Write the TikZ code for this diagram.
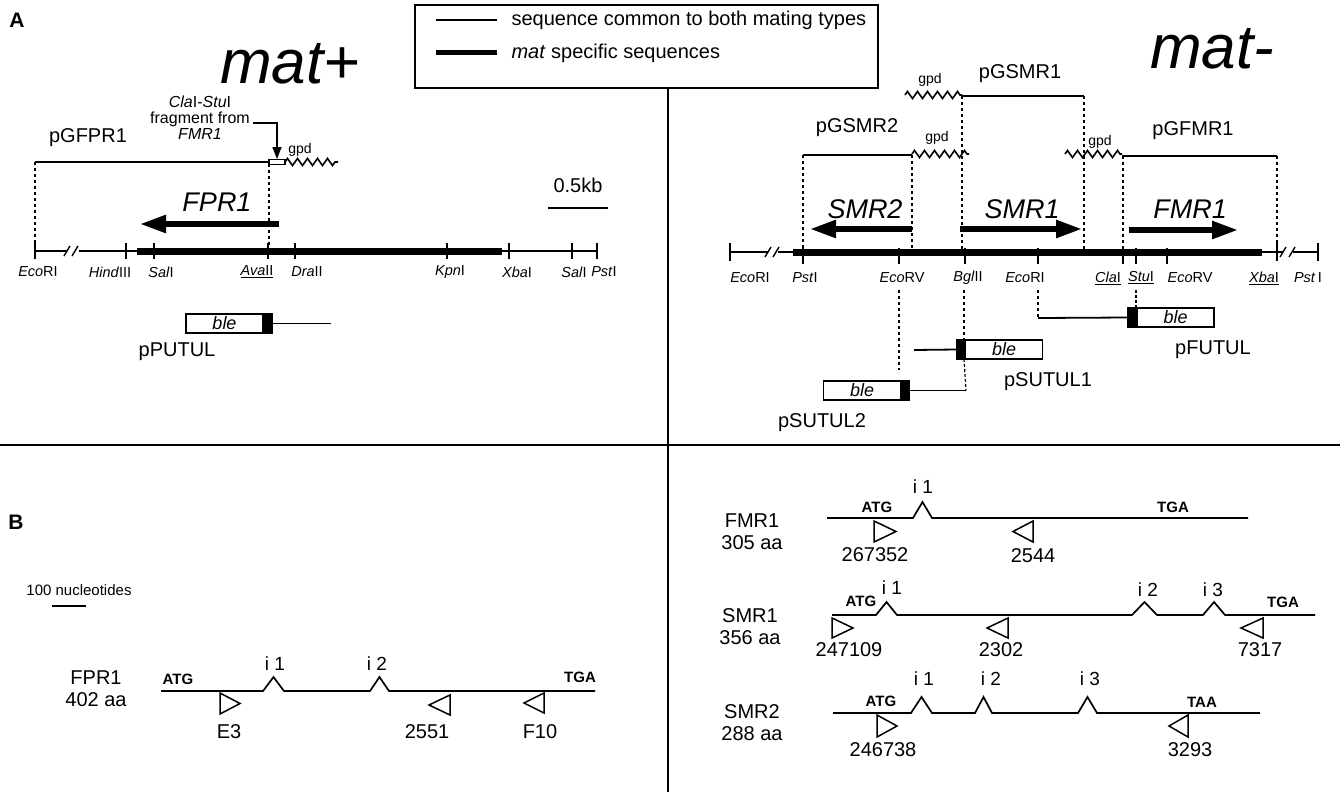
\documentclass[tikz,border=0pt]{standalone}
\usepackage{fontspec}
\setmainfont{Liberation Sans}
\usetikzlibrary{positioning,arrows.meta,decorations.pathmorphing}

\begin{document}
\begin{tikzpicture}[
    x=1pt, y=-1pt,
    lab/.style={font=\fontsize{20}{22}\selectfont},
    smalllab/.style={font=\fontsize{15}{17}\selectfont},
    enz/.style={font=\fontsize{14.5}{16}\selectfont},
    gpdlab/.style={font=\fontsize{14}{16}\selectfont},
    panel/.style={font=\fontsize{21}{24}\selectfont\bfseries},
    gene/.style={font=\fontsize{27}{30}\selectfont\itshape},
    mattype/.style={font=\fontsize{62}{70}\selectfont\itshape, anchor=base},
    codon/.style={font=\fontsize{15}{17}\selectfont\bfseries},
    intronlab/.style={font=\fontsize{19}{21}\selectfont},
    common/.style={line width=1.8pt},
    matspec/.style={line width=7pt},
    sitedots/.style={line width=2.2pt, dash pattern=on 2.5pt off 3.5pt},
    site/.style={line width=1.4pt},
    gpd/.style={line width=1.6pt, decorate, decoration={zigzag, segment length=10pt, amplitude=3.5pt}},
    orf/.style={line width=5.5pt, -{Triangle[length=26pt, width=17pt]}},
    exon/.style={line width=1.7pt, line join=miter},
    primer/.style={line width=1.5pt, line join=miter},
    blebox/.style={draw, line width=1.6pt, outer sep=0pt, minimum width=77pt, minimum height=19pt, inner sep=0pt, font=\fontsize{18}{20}\selectfont\itshape},
    blecap/.style={draw, fill=black, line width=1.6pt, outer sep=0pt, minimum width=9pt, minimum height=19pt, inner sep=0pt}
]
\path[use as bounding box, fill=white] (0,0) rectangle (1340,792);

% Legend and panel frames
\draw[line width=1.6pt] (415,5) rectangle (878,88);
\draw[line width=1.2pt] (436,20) -- (497,20);
\draw[line width=5pt] (436,53) -- (497,53);
\node[lab, anchor=west] (legcommon) at (508,20) {sequence common to both mating types};
\node[lab, anchor=west] (legspecific) at (508,53) {\textit{mat} specific sequences};
\draw[line width=1.5pt] (0,445) -- (1340,445);
\draw[line width=1.5pt] (668,88) -- (668,792);

% Panel A, mat+
\node[panel] (panelA) at (17,20) {A};
\node[mattype] (matplus) at (290,83) {mat+};
\node[lab] (pgfpr1) at (88,138) {pGFPR1};
\node[align=center, font=\fontsize{16}{16}\selectfont] (frag) at (200,118) {\textit{Cla}I-\textit{Stu}I\\fragment from\\\textit{FMR1}};
\node[gpdlab] (gpdA) at (300,150) {gpd};
\coordinate (gA1) at (35,162);
\coordinate (gA2) at (269,162);
\coordinate (gA3) at (285,162);
\coordinate (gA4) at (338,162);
\draw[common] (gA1) -- (gA2);
\draw[line width=1.2pt] (269,159.5) rectangle (285,164.5);
\draw[gpd] (gA3) -- (gA4);
\draw[line width=1.4pt, -{Triangle[length=12pt, width=9pt]}] ([yshift=-5pt]frag.east) -| (277,159);
\node[lab] (halfkb) at (578,185) {0.5kb};
\draw[line width=2.5pt] (548,208) -- (608,208);

% FPR1 region map
\draw[sitedots] (gA1) -- (35,251);
\draw[sitedots] (269,164) -- (269,251);
\draw[orf] (279,224) -- (140,224);
\node[gene] (fpr1) at (217,202) {FPR1};
\draw[line width=1.5pt] (35,251) -- (67,251) (79,251) -- (137,251) (502,251) -- (597,251);
\draw[site] (64,256) -- (70,246) (72,256) -- (78,246);
\draw[matspec] (137,251) -- (502,251);
\foreach \x in {35,126,154,268,295,447,509,572,597}
    \draw[site] (\x,243) -- (\x,259);
\foreach \x/\t [count=\i] in {38/{\textit{Eco}RI}, 110/{\textit{Hind}III}, 161/{\textit{Sal}I},
        257/{\underline{\textit{Ava}II}}, 307/{\textit{Dra}II}, 450/{\textit{Kpn}I},
        517/{\textit{Xba}I}, 574/{\textit{Sal}I}, 604/{\textit{Pst}I}}
    \node[enz] (siteA\i) at (\x,272) {\t};

% pPUTUL
\node[blebox] (bleA) at (224.5,323.5) {ble};
\node[blecap, right=0pt of bleA] (capA) {};
\coordinate (endA) at (331,323.5);
\draw[common] (capA.east) -- (endA);
\node[lab] (pputul) at (177,352) {pPUTUL};

% Panel A, mat-
\node[mattype] (matminus) at (1212,68) {mat-};
\node[lab] (pgsmr1) at (1020,74) {pGSMR1};
\node[gpdlab] (gpdS1) at (930,80) {gpd};
\draw[gpd] (905,95) -- (962,95);
\draw[common] (962,96) -- (1084,96);
\node[lab] (pgsmr2) at (857,128) {pGSMR2};
\node[gpdlab] (gpdS2) at (937,138) {gpd};
\draw[common] (803,155) -- (912,155);
\draw[gpd] (912,154) -- (969,154);
\node[lab] (pgfmr1) at (1193,131) {pGFMR1};
\node[gpdlab] (gpdF1) at (1100,142) {gpd};
\draw[gpd] (1065,154) -- (1122,154);
\draw[common] (1122,156) -- (1277,156);
\draw[sitedots] (803,155) -- (803,252);
\draw[sitedots] (912,155) -- (912,252);
\draw[sitedots] (962,96) -- (962,252);
\draw[sitedots] (1084,96) -- (1084,252);
\draw[sitedots] (1123,156) -- (1123,252);
\draw[sitedots] (1277,156) -- (1277,252);

% mat- ORFs and map
\draw[orf] (912,229) -- (810,229);
\draw[orf] (960,229) -- (1082,229);
\draw[orf] (1129,230) -- (1238,230);
\node[gene] (smr2) at (865,209) {SMR2};
\node[gene] (smr1) at (1022,209) {SMR1};
\node[gene] (fmr1) at (1190,209) {FMR1};
\draw[line width=1.5pt] (730,252) -- (768,252) (778,252) -- (793,252)
    (1262,252) -- (1283,252) (1293,252) -- (1318,252);
\draw[site] (765,257) -- (771,247) (773,257) -- (779,247)
    (1280,257) -- (1286,247) (1289,257) -- (1295,247);
\draw[matspec] (793,252) -- (1262,252);
\foreach \x in {730,1277,1318}
    \draw[site] (\x,243) -- (\x,261);
\foreach \x in {803,899,965,1038,1123,1136,1167}
    \draw[site] (\x,248) -- (\x,264);
\foreach \x/\t [count=\i] in {750/{\textit{Eco}RI}, 805/{\textit{Pst}I}, 902/{\textit{Eco}RV},
        968/{\textit{Bgl}II}, 1025/{\textit{Eco}RI}, 1108/{\underline{\textit{Cla}I}},
        1141/{\underline{\textit{Stu}I}}, 1190/{\textit{Eco}RV}, 1264/{\underline{\textit{Xba}I}},
        1308/{\textit{Pst}\,I}}
    \node[enz] (siteB\i) at (\x,278) {\t};

% ble constructs for mat-
\node[blecap] (capF) at (1132.5,317.5) {};
\node[blebox, right=0pt of capF] (bleF) {ble};
\node[blecap] (capS1) at (961,349.5) {};
\node[blebox, right=0pt of capS1] (bleS1) {ble};
\node[blebox] (bleS2) at (862,390.5) {ble};
\node[blecap, right=0pt of bleS2] (capS2) {};
\coordinate (fromF) at (1038,318);
\coordinate (fromS1) at (914,350);
\coordinate (toS2) at (966,390.5);
\draw[sitedots] (899,290) -- (899,370);
\draw[sitedots] (964,290) -- (capS1.north -| 964,0);
\draw[line width=1.2pt, dash pattern=on 3pt off 2pt] (capS1.south -| 964,0) -- (toS2);
\draw[sitedots] (1038,290) -- (fromF);
\draw[line width=1.2pt, dash pattern=on 3pt off 2pt] (1136,290) -- (capF.north -| 1136,0);
\draw[common] (fromF) -- (capF.west);
\draw[common] (fromS1) -- (capS1.west);
\draw[common] (capS2.east) -- (toS2);
\node[lab] (pfutul) at (1213,350) {pFUTUL};
\node[lab] (psutul1) at (1048,382) {pSUTUL1};
\node[lab] (psutul2) at (822,423) {pSUTUL2};

% Panel B, FPR1
\node[panel] (panelB) at (16,522) {B};
\node[smalllab] (ntlab) at (79,590) {100 nucleotides};
\draw[line width=2.5pt] (52,606) -- (86,606);
\node[lab, align=center] (fpr1b) at (96,689) {FPR1\\402 aa};
\draw[exon] (161,691) -- (263,691) -- ++(10.5,-14) -- ++(10.5,14) -- (370,691)
    -- ++(9.5,-14) -- ++(9.5,14) -- (595,691);
\node[codon] (atgA) at (178,679) {ATG};
\node[codon] (tgaA) at (580,677) {TGA};
\node[intronlab] (iA1) at (275,664) {i 1};
\node[intronlab] (iA2) at (377,664) {i 2};
\draw[primer] (220,693) -- ++(20,10.5) -- ++(-20,10.5) -- cycle;
\draw[primer] (450,695) -- ++(-21,10) -- ++(21,10) -- cycle;
\draw[primer] (544,693) -- ++(-20,10) -- ++(20,10) -- cycle;
\node[lab] (pE3) at (229,732) {E3};
\node[lab] (p2551) at (427,732) {2551};
\node[lab] (pF10) at (540,732) {F10};

% Panel B, FMR1
\node[lab, align=center] (fmr1b) at (752,532) {FMR1\\305 aa};
\draw[exon] (827,518) -- (913,518) -- ++(9.5,-16) -- ++(9.5,16) -- (1248,518);
\node[codon] (atgF) at (877,507) {ATG};
\node[codon] (tgaF) at (1173,507) {TGA};
\node[intronlab] (iF1) at (923,487) {i 1};
\draw[primer] (874,521) -- ++(22,10.5) -- ++(-22,10.5) -- cycle;
\draw[primer] (1033,521) -- ++(-20,10.5) -- ++(20,10.5) -- cycle;
\node[lab] (p267352) at (875,555) {267352};
\node[lab] (p2544) at (1033,556) {2544};

% Panel B, SMR1
\node[lab, align=center] (smr1b) at (750,627) {SMR1\\356 aa};
\draw[exon] (832,615) -- (876,615) -- ++(10.5,-13) -- ++(10.5,13) -- (1132,615)
    -- ++(12.5,-13) -- ++(12.5,13) -- (1203,615) -- ++(11,-13) -- ++(11,13) -- (1315,615);
\node[codon] (atgS1) at (861,601) {ATG};
\node[codon] (tgaS1) at (1283,602) {TGA};
\node[intronlab] (iS11) at (892,588) {i 1};
\node[intronlab] (iS12) at (1148,590) {i 2};
\node[intronlab] (iS13) at (1213,590) {i 3};
\draw[primer] (832,618) -- ++(21,10) -- ++(-21,10) -- cycle;
\draw[primer] (1008,618) -- ++(-21,10) -- ++(21,10) -- cycle;
\draw[primer] (1263,618) -- ++(-22,10) -- ++(22,10) -- cycle;
\node[lab] (p247109) at (849,650) {247109};
\node[lab] (p2302) at (1001,650) {2302};
\node[lab] (p7317) at (1260,650) {7317};

% Panel B, SMR2
\node[lab, align=center] (smr2b) at (752,723) {SMR2\\288 aa};
\draw[exon] (833,713) -- (911,713) -- ++(10.5,-16) -- ++(10.5,16) -- (975,713)
    -- ++(8.5,-16) -- ++(8.5,16) -- (1078,713) -- ++(9.5,-16) -- ++(9.5,16) -- (1260,713);
\node[codon] (atgS2) at (881,701) {ATG};
\node[codon] (taaS2) at (1202,702) {TAA};
\node[intronlab] (iS21) at (924,679) {i 1};
\node[intronlab] (iS22) at (991,679) {i 2};
\node[intronlab] (iS23) at (1090,679) {i 3};
\draw[primer] (877,715) -- ++(20,11) -- ++(-20,11) -- cycle;
\draw[primer] (1188,715) -- ++(-19,11) -- ++(19,11) -- cycle;
\node[lab] (p246738) at (883,750) {246738};
\node[lab] (p3293) at (1190,750) {3293};

\end{tikzpicture}
\end{document}
